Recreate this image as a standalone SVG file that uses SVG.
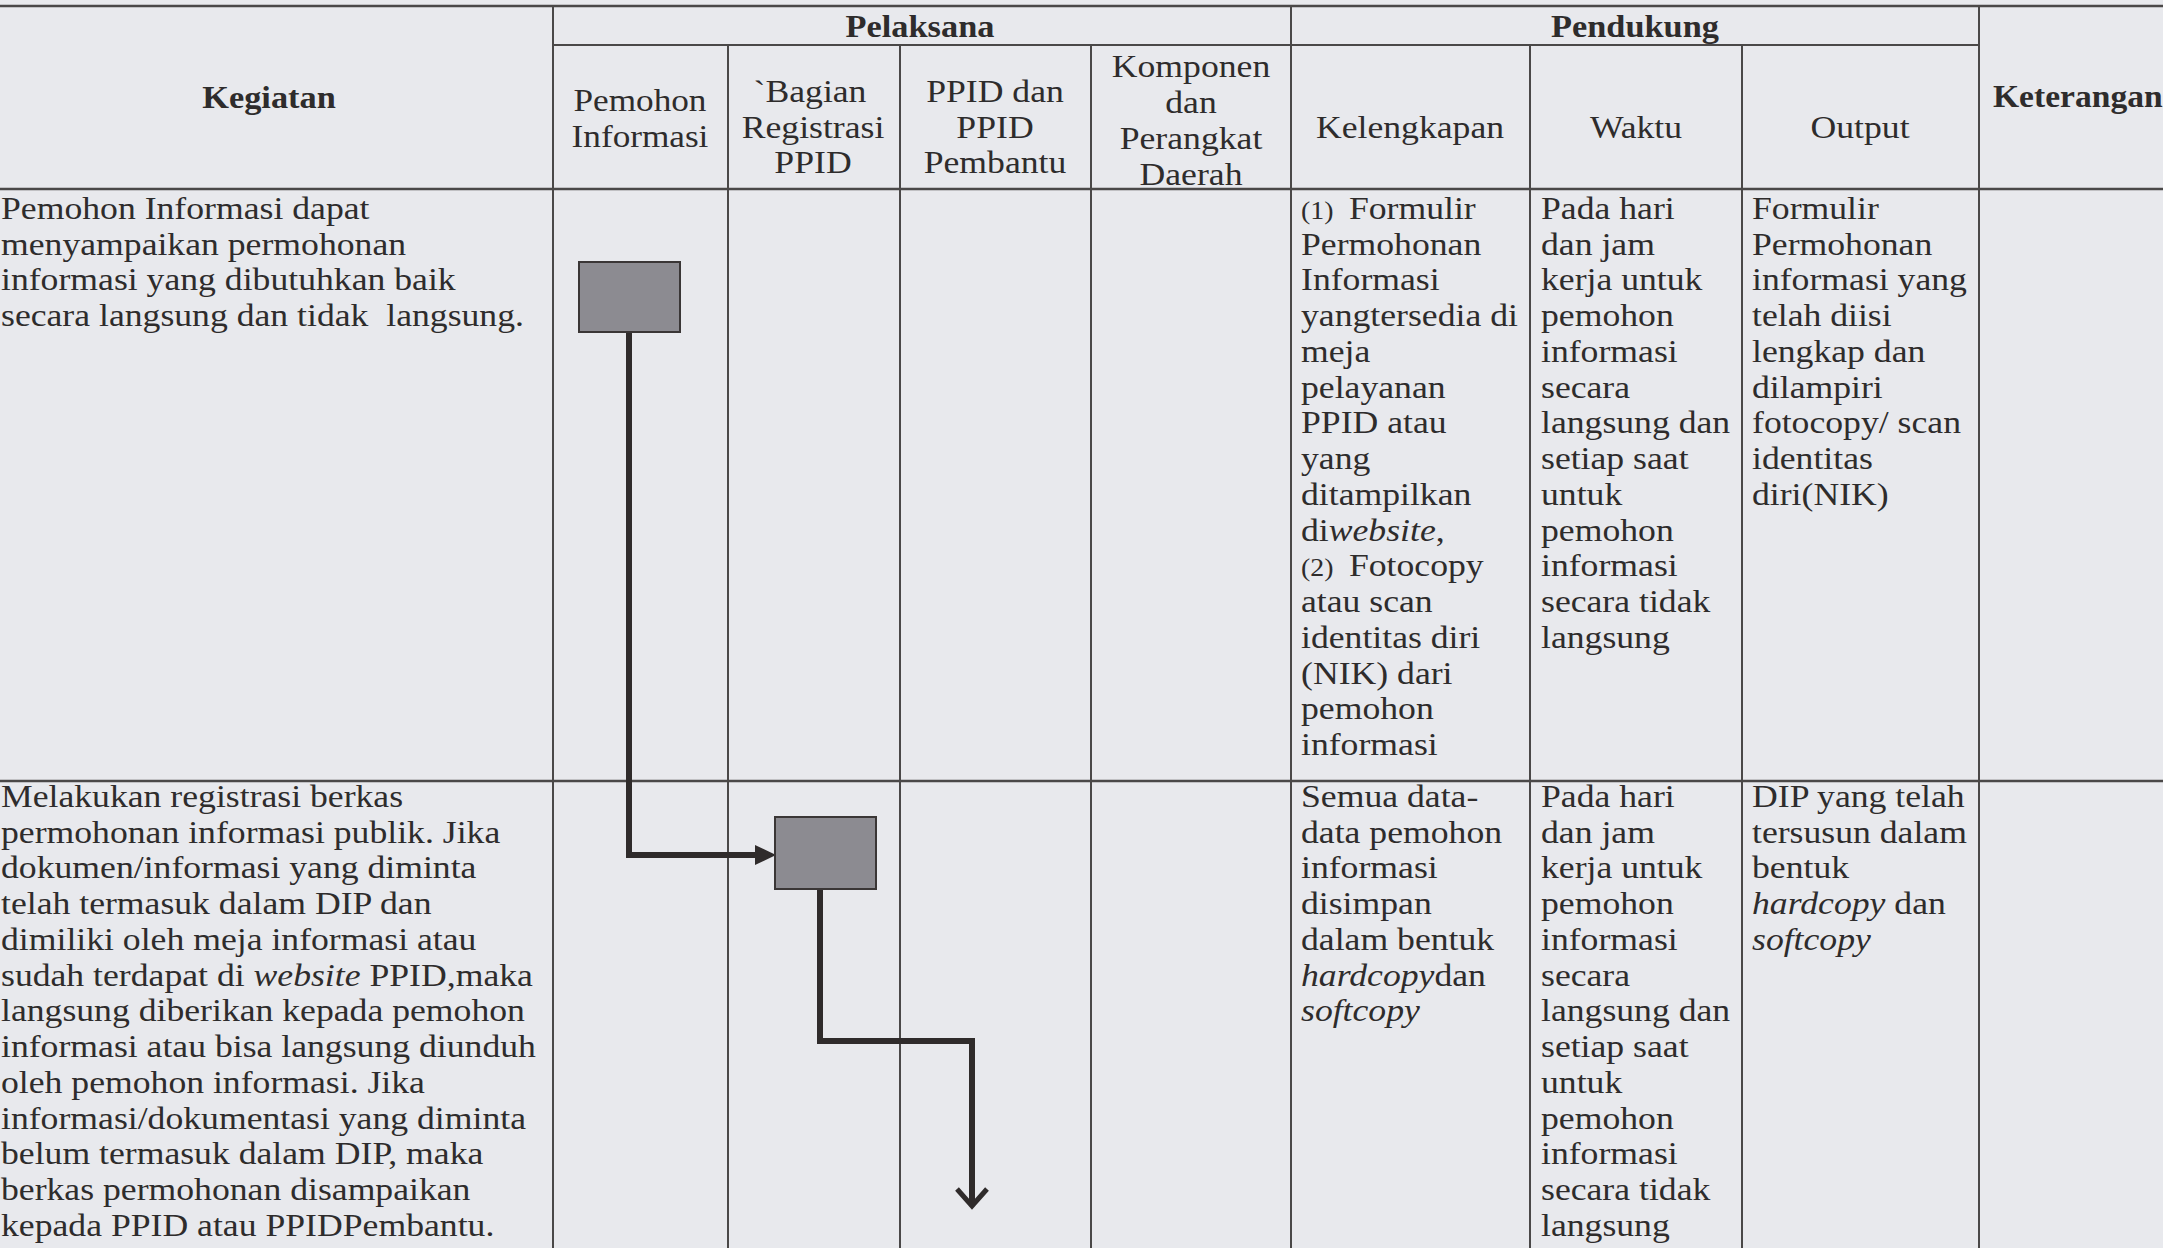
<svg xmlns="http://www.w3.org/2000/svg" width="2163" height="1248" viewBox="0 0 2163 1248">
<style>
.bg{fill:#e8e9ed}
.ln{stroke:#4a4848;stroke-width:2;fill:none}
.lnb{stroke:#4a4848;stroke-width:2.6;fill:none}
.t{font-family:"Liberation Serif","Times New Roman",serif;font-size:32px;fill:#2e2c2c}
.b{font-family:"Liberation Serif","Times New Roman",serif;font-size:30.8px;font-weight:bold;fill:#2e2c2c}
.s{font-family:"Liberation Serif","Times New Roman",serif;font-size:25px;fill:#2e2c2c}
.m{text-anchor:middle}
.i{font-style:italic}
.box{fill:#8c8b91;stroke:#3a3636;stroke-width:2}
.con{stroke:#2f2b2b;stroke-width:6;fill:none;stroke-linejoin:miter}
</style>
<rect class="bg" x="0" y="0" width="2163" height="1248"/>

<g id="table-grid">
<line class="lnb" x1="0" y1="6" x2="2163" y2="6"/>
<line class="ln" x1="553" y1="45" x2="1979" y2="45"/>
<line class="lnb" x1="0" y1="189" x2="2163" y2="189"/>
<line class="lnb" x1="0" y1="781" x2="2163" y2="781"/>
<line class="ln" x1="553" y1="6" x2="553" y2="1248"/>
<line class="ln" x1="1291" y1="6" x2="1291" y2="1248"/>
<line class="ln" x1="1979" y1="6" x2="1979" y2="1248"/>
<line class="ln" x1="728" y1="45" x2="728" y2="1248"/>
<line class="ln" x1="900" y1="45" x2="900" y2="1248"/>
<line class="ln" x1="1091" y1="45" x2="1091" y2="1248"/>
<line class="ln" x1="1530" y1="45" x2="1530" y2="1248"/>
<line class="ln" x1="1742" y1="45" x2="1742" y2="1248"/>
</g>

<g id="header">
<g transform="translate(920,0) scale(1.115,1)"><text class="b m" x="0" y="37">Pelaksana</text></g>
<g transform="translate(1635,0) scale(1.115,1)"><text class="b m" x="0" y="37">Pendukung</text></g>
<g transform="translate(269,0) scale(1.115,1)"><text class="b m" x="0" y="108">Kegiatan</text></g>
<g transform="translate(1993,0) scale(1.09,1)"><text class="b" x="0" y="107">Keterangan</text></g>
<g transform="translate(640,0) scale(1.1,1)"><text class="t m" x="0" y="111">Pemohon<tspan x="0" dy="36">Informasi</tspan></text></g>
<g transform="translate(810,0) scale(1.115,1)"><text class="t m" x="0" y="102">`Bagian</text></g>
<g transform="translate(813,0) scale(1.115,1)"><text class="t m" x="0" y="138">Registrasi<tspan x="0" dy="35">PPID</tspan></text></g>
<g transform="translate(995,0) scale(1.115,1)"><text class="t m" x="0" y="102">PPID dan<tspan x="0" dy="36">PPID</tspan><tspan x="0" dy="35">Pembantu</tspan></text></g>
<g transform="translate(1191,0) scale(1.115,1)"><text class="t m" x="0" y="77">Komponen<tspan x="0" dy="36">dan</tspan><tspan x="0" dy="36">Perangkat</tspan><tspan x="0" dy="36">Daerah</tspan></text></g>
<g transform="translate(1410,0) scale(1.115,1)"><text class="t m" x="0" y="138">Kelengkapan</text></g>
<g transform="translate(1636,0) scale(1.115,1)"><text class="t m" x="0" y="138">Waktu</text></g>
<g transform="translate(1860,0) scale(1.115,1)"><text class="t m" x="0" y="138">Output</text></g>
</g>

<g id="row1">
<g transform="translate(1,0) scale(1.115,1)"><text class="t" x="0" y="219">Pemohon Informasi dapat<tspan x="0" dy="35.75">menyampaikan permohonan</tspan><tspan x="0" dy="35.75">informasi yang dibutuhkan baik</tspan><tspan x="0" dy="35.75">secara langsung dan tidak&#160; langsung.</tspan></text></g>
<g transform="translate(1301,0) scale(1.115,1)">
<text class="s" x="0" y="219">(1)</text>
<text class="t" x="43" y="219">Formulir</text>
<text class="t" x="0" y="254.75">Permohonan<tspan x="0" dy="35.75">Informasi</tspan><tspan x="0" dy="35.75">yangtersedia di</tspan><tspan x="0" dy="35.75">meja</tspan><tspan x="0" dy="35.75">pelayanan</tspan><tspan x="0" dy="35.75">PPID atau</tspan><tspan x="0" dy="35.75">yang</tspan><tspan x="0" dy="35.75">ditampilkan</tspan><tspan x="0" dy="35.75">di<tspan class="i">website</tspan>,</tspan></text>
<text class="s" x="0" y="576.5">(2)</text>
<text class="t" x="43" y="576.5">Fotocopy</text>
<text class="t" x="0" y="612.25">atau scan<tspan x="0" dy="35.75">identitas diri</tspan><tspan x="0" dy="35.75">(NIK) dari</tspan><tspan x="0" dy="35.75">pemohon</tspan><tspan x="0" dy="35.75">informasi</tspan></text>
</g>
<g transform="translate(1541,0) scale(1.115,1)"><text class="t" x="0" y="219">Pada hari<tspan x="0" dy="35.75">dan jam</tspan><tspan x="0" dy="35.75">kerja untuk</tspan><tspan x="0" dy="35.75">pemohon</tspan><tspan x="0" dy="35.75">informasi</tspan><tspan x="0" dy="35.75">secara</tspan><tspan x="0" dy="35.75">langsung dan</tspan><tspan x="0" dy="35.75">setiap saat</tspan><tspan x="0" dy="35.75">untuk</tspan><tspan x="0" dy="35.75">pemohon</tspan><tspan x="0" dy="35.75">informasi</tspan><tspan x="0" dy="35.75">secara tidak</tspan><tspan x="0" dy="35.75">langsung</tspan></text></g>
<g transform="translate(1752,0) scale(1.115,1)"><text class="t" x="0" y="219">Formulir<tspan x="0" dy="35.75">Permohonan</tspan><tspan x="0" dy="35.75">informasi yang</tspan><tspan x="0" dy="35.75">telah diisi</tspan><tspan x="0" dy="35.75">lengkap dan</tspan><tspan x="0" dy="35.75">dilampiri</tspan><tspan x="0" dy="35.75">fotocopy/ scan</tspan><tspan x="0" dy="35.75">identitas</tspan><tspan x="0" dy="35.75">diri(NIK)</tspan></text></g>
</g>

<g id="row2">
<g transform="translate(1,0) scale(1.115,1)"><text class="t" x="0" y="807">Melakukan registrasi berkas<tspan x="0" dy="35.75">permohonan informasi publik. Jika</tspan><tspan x="0" dy="35.75">dokumen/informasi yang diminta</tspan><tspan x="0" dy="35.75">telah termasuk dalam DIP dan</tspan><tspan x="0" dy="35.75">dimiliki oleh meja informasi atau</tspan><tspan x="0" dy="35.75">sudah terdapat di <tspan class="i">website</tspan> PPID,maka</tspan><tspan x="0" dy="35.75">langsung diberikan kepada pemohon</tspan><tspan x="0" dy="35.75">informasi atau bisa langsung diunduh</tspan><tspan x="0" dy="35.75">oleh pemohon informasi. Jika</tspan><tspan x="0" dy="35.75">informasi/dokumentasi yang diminta</tspan><tspan x="0" dy="35.75">belum termasuk dalam DIP, maka</tspan><tspan x="0" dy="35.75">berkas permohonan disampaikan</tspan><tspan x="0" dy="35.75">kepada PPID atau PPIDPembantu.</tspan></text></g>
<g transform="translate(1301,0) scale(1.115,1)"><text class="t" x="0" y="807">Semua data-<tspan x="0" dy="35.75">data pemohon</tspan><tspan x="0" dy="35.75">informasi</tspan><tspan x="0" dy="35.75">disimpan</tspan><tspan x="0" dy="35.75">dalam bentuk</tspan><tspan x="0" dy="35.75"><tspan class="i">hardcopy</tspan>dan</tspan><tspan x="0" dy="35.75" class="i">softcopy</tspan></text></g>
<g transform="translate(1541,0) scale(1.115,1)"><text class="t" x="0" y="807">Pada hari<tspan x="0" dy="35.75">dan jam</tspan><tspan x="0" dy="35.75">kerja untuk</tspan><tspan x="0" dy="35.75">pemohon</tspan><tspan x="0" dy="35.75">informasi</tspan><tspan x="0" dy="35.75">secara</tspan><tspan x="0" dy="35.75">langsung dan</tspan><tspan x="0" dy="35.75">setiap saat</tspan><tspan x="0" dy="35.75">untuk</tspan><tspan x="0" dy="35.75">pemohon</tspan><tspan x="0" dy="35.75">informasi</tspan><tspan x="0" dy="35.75">secara tidak</tspan><tspan x="0" dy="35.75">langsung</tspan></text></g>
<g transform="translate(1752,0) scale(1.115,1)"><text class="t" x="0" y="807">DIP yang telah<tspan x="0" dy="35.75">tersusun dalam</tspan><tspan x="0" dy="35.75">bentuk</tspan><tspan x="0" dy="35.75"><tspan class="i">hardcopy</tspan> dan</tspan><tspan x="0" dy="35.75" class="i">softcopy</tspan></text></g>
</g>

<g id="connectors">
<path class="con" d="M629,332 V855 H758"/>
<polygon points="755,845 776,855 755,865" fill="#2f2b2b"/>
<path class="con" d="M820,889 V1041 H972 V1205"/>
<polyline points="957,1189 972,1206 987,1189" fill="none" stroke="#2f2b2b" stroke-width="5" stroke-linejoin="miter"/>
</g>

<g id="node-pemohon">
<rect class="box" x="579" y="262" width="101" height="70"/>
</g>
<g id="node-registrasi">
<rect class="box" x="775" y="817" width="101" height="72"/>
</g>
</svg>
